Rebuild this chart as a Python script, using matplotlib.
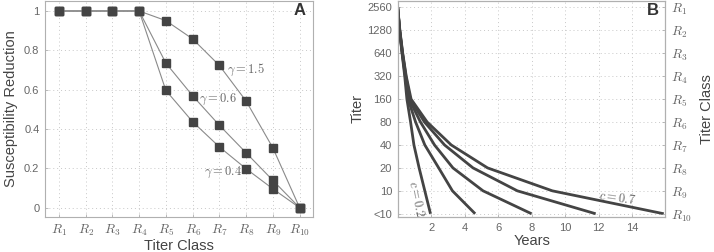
import numpy as np
import matplotlib
matplotlib.use("Agg")
import matplotlib.pyplot as plt

plt.rcParams['font.family'] = ['Liberation Sans', 'DejaVu Sans']
plt.rcParams['mathtext.fontset'] = 'cm'

# panel A: susceptibility reduction per titer class
classes = ['$R_{%d}$' % i for i in range(1, 11)]
gamma_15 = [1, 1, 1, 1, 0.951, 0.858, 0.723, 0.542, 0.304, 0]
gamma_06 = [1, 1, 1, 1, 0.735, 0.569, 0.419, 0.279, 0.139, 0]
gamma_04 = [1, 1, 1, 1, 0.596, 0.437, 0.309, 0.198, 0.096, 0]

# panel B: years at which each titer level is reached
titer_labels = ['2560', '1280', '640', '320', '160', '80', '40', '20', '10', '<10']
years_c1 = [0, 0.11, 0.26, 0.42, 0.55, 0.77, 0.97, 1.28, 1.62, 1.96]
years_c2 = [0, 0.11, 0.27, 0.45, 0.62, 1.07, 1.62, 2.45, 3.27, 4.63]
years_c3 = [0, 0.12, 0.28, 0.47, 0.68, 1.36, 2.2, 3.3, 5.1, 8.0]
years_c4 = [0, 0.12, 0.29, 0.49, 0.74, 1.6, 2.8, 4.5, 7.15, 11.83]
years_c5 = [0, 0.13, 0.3, 0.51, 0.8, 1.76, 3.2, 5.37, 9.24, 15.9]

grid_c = '#c8c8c8'
frame_c = '#b0b0b0'
tick_c = '#666666'
label_c = '#444444'

fig = plt.figure(figsize=(7.14, 2.52), dpi=100)

# ---- panel A
axA = fig.add_axes([0.063, 0.139, 0.375, 0.858])
x = np.arange(1, 11)
for s in (gamma_15, gamma_06, gamma_04):
    axA.plot(x, s, color='#8a8a8a', lw=0.8, marker='s', ms=5.8,
             mfc='#444444', mec='#444444', zorder=3)
axA.set_xlim(0.48, 10.49)
axA.set_ylim(-0.047, 1.052)
axA.set_xticks(x)
axA.set_xticklabels(classes)
axA.set_yticks([0, 0.2, 0.4, 0.6, 0.8, 1])
axA.set_yticklabels(['0', '0.2', '0.4', '0.6', '0.8', '1'])
axA.set_xlabel('Titer Class', fontsize=10.5, color=label_c, labelpad=1)
axA.set_ylabel('Susceptibility Reduction', fontsize=10.5, color=label_c, labelpad=4)
axA.text(8.0, 0.703, r'$\gamma = 1.5$', fontsize=9, color='#666666', ha='center', va='center')
axA.text(6.93, 0.552, r'$\gamma = 0.6$', fontsize=9, color='#666666', ha='center', va='center')
axA.text(7.12, 0.179, r'$\gamma = 0.4$', fontsize=9, color='#666666', ha='center', va='center')
axA.text(0.975, 0.955, 'A', transform=axA.transAxes, fontsize=12, fontweight='bold',
         color='#333333', ha='right', va='center')

# ---- panel B
axB = fig.add_axes([0.557, 0.139, 0.375, 0.858])
levels = np.arange(9, -1, -1)
for s in (years_c1, years_c2, years_c3, years_c4, years_c5):
    axB.plot(s, levels, color='#444444', lw=2.0, solid_capstyle='butt', zorder=3)
axB.set_xlim(0, 16)
axB.set_ylim(-0.14, 9.29)
axB.set_xticks([2, 4, 6, 8, 10, 12, 14])
axB.set_yticks(levels)
axB.set_yticklabels(titer_labels)
axB.set_xlabel('Years', fontsize=10.5, color=label_c, labelpad=1)
axB.set_ylabel('Titer', fontsize=10.5, color=label_c, labelpad=2)
axB.text(1.1, 0.63, '$c = 0.2$', fontsize=9, color='#666666', rotation=-78,
         ha='center', va='center')
axB.text(13.1, 0.66, '$c = 0.7$', fontsize=9, color='#666666', rotation=-8,
         ha='center', va='center')
axB.text(0.975, 0.955, 'B', transform=axB.transAxes, fontsize=12, fontweight='bold',
         color='#333333', ha='right', va='center')

axR = axB.twinx()
axR.set_ylim(axB.get_ylim())
axR.set_yticks(levels)
axR.set_yticklabels(classes)
axR.set_ylabel('Titer Class', fontsize=10.5, color=label_c, labelpad=6)

for ax in (axA, axB, axR):
    for sp in ax.spines.values():
        sp.set_color(frame_c)
        sp.set_linewidth(0.8)
    ax.tick_params(colors=frame_c, labelcolor=tick_c, labelsize=8, length=2.5,
                   width=0.6, direction='in', pad=4)
for ax in (axA, axB):
    ax.grid(True, color=grid_c, ls=(0, (1, 3)), lw=0.7)
    ax.set_axisbelow(True)
axA.tick_params(axis='x', labelsize=9.5)
axR.tick_params(labelsize=9.5)

fig.savefig('out.png', dpi=100)
